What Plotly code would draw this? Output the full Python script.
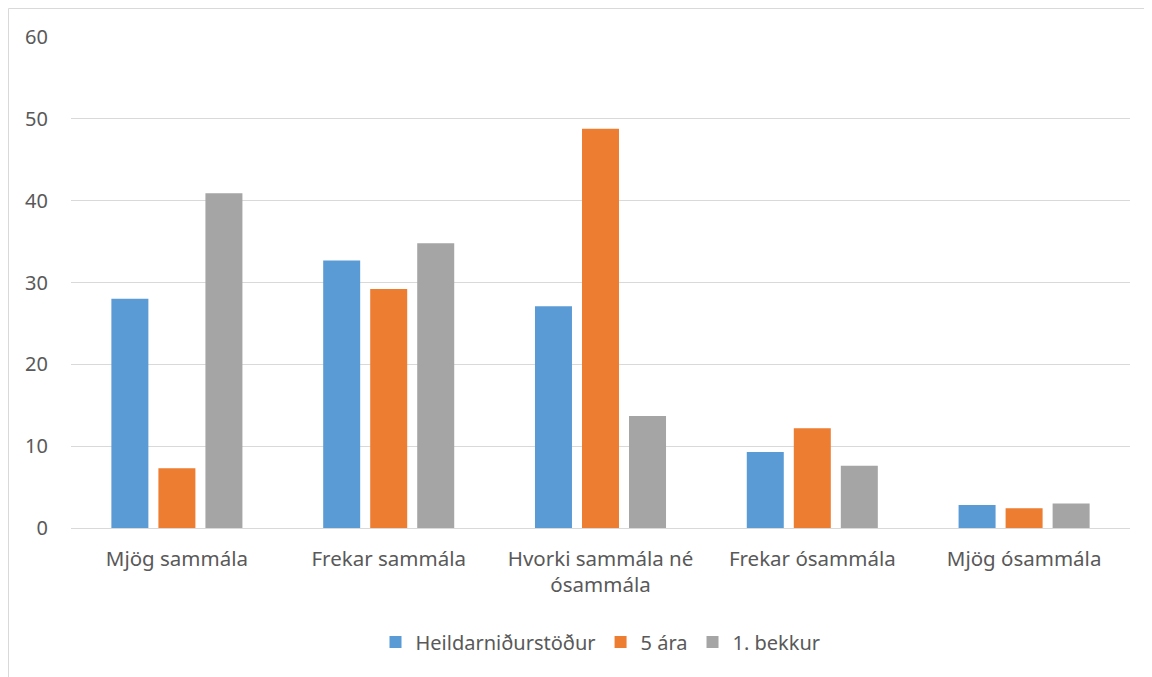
import plotly.graph_objects as go

categories = ["Mjög sammála", "Frekar sammála", "Hvorki sammála né<br>ósammála",
              "Frekar ósammála", "Mjög ósammála"]
heild = [28.0, 32.7, 27.1, 9.3, 2.8]
fimm_ara = [7.3, 29.2, 48.8, 12.2, 2.4]
fyrsti_bekkur = [40.9, 34.8, 13.7, 7.6, 3.0]
series_names = ["Heildarniðurstöður", "5 ára", "1. bekkur"]
colors = ["#5B9BD5", "#ED7D31", "#A5A5A5"]
y_ticks = [0, 10, 20, 30, 40, 50, 60]

# page has an 8px body margin; compensate so plot lands where the reference has it
OFF = 8
W, H = 1152, 677
L, R, T, B = 71 - OFF, 22 + OFF, 37 - OFF, 149 + OFF
pw, ph = W - L - R, H - T - B

fig = go.Figure()
for name, vals, c in zip(series_names, [heild, fimm_ara, fyrsti_bekkur], colors):
    fig.add_trace(go.Bar(x=categories, y=vals, name=name, marker_color=c,
                         marker_line_width=0))

font = dict(family="'Noto Sans', 'Open Sans', sans-serif", size=20, color="#595959")
xfont = dict(family="'Noto Sans', 'Open Sans', sans-serif", size=20.5, color="#595959")
fig.update_layout(
    width=W, height=H,
    margin=dict(l=L, r=R, t=T, b=B),
    paper_bgcolor="white", plot_bgcolor="white",
    barmode="group", bargap=0.334, bargroupgap=0.213,
    font=font,
    showlegend=True,
    legend=dict(orientation="h", x=0.5, xanchor="center",
                y=(T + ph - (642 - OFF)) / ph, yanchor="middle",
                font=dict(size=20, color="#595959"), itemwidth=30,
                traceorder="normal"),
    xaxis=dict(showgrid=False, showline=True, linecolor="#D9D9D9", linewidth=1,
               ticks="", tickfont=xfont, ticklabelstandoff=12),
    yaxis=dict(range=[0, 60], tickvals=y_ticks, showgrid=True, gridcolor="#D9D9D9",
               gridwidth=1, zeroline=True, zerolinecolor="#D9D9D9", zerolinewidth=1,
               showline=False, ticks="", tickfont=font, ticklabelstandoff=22),
)

# outer chart border (left and top edges visible)
x0 = (0.5 - L) / pw
ytop = (T + ph - 0.5) / ph
x1 = (W + 5 - L) / pw
ybot = (T + ph - (H + 5)) / ph
fig.add_shape(type="rect", xref="paper", yref="paper", x0=x0, x1=x1, y0=ybot, y1=ytop,
              line=dict(color="#D9D9D9", width=1), fillcolor="rgba(0,0,0,0)", layer="below")

fig.write_html("out.html")
